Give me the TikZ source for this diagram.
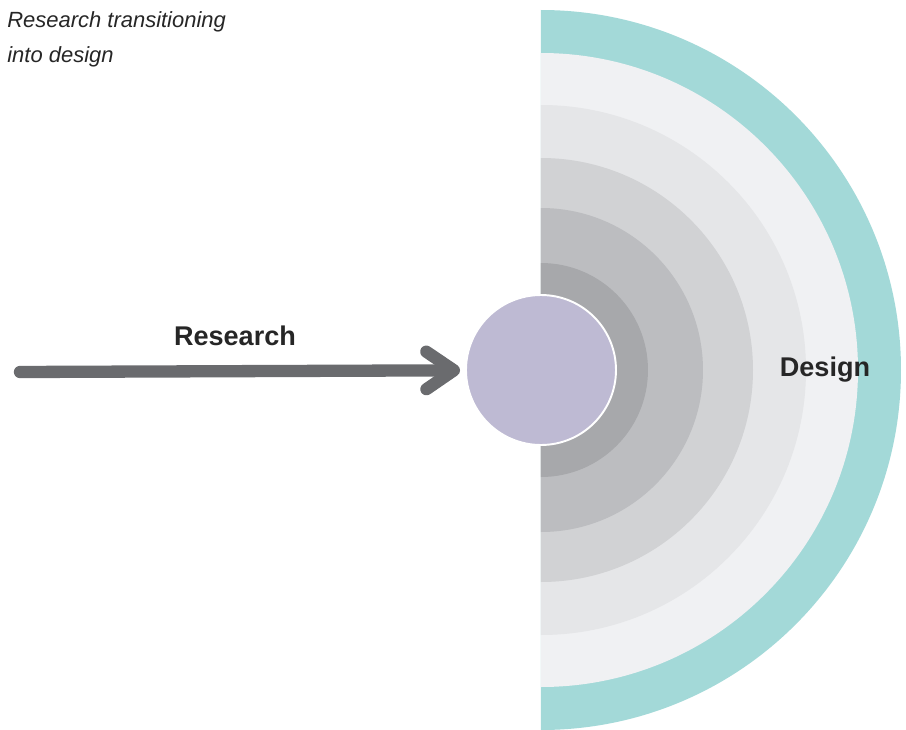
\documentclass[tikz,border=0pt]{standalone}
\usepackage{fontspec}
\setmainfont{Liberation Sans}
\usepackage{xcolor}
\usepackage{tikz}
\usetikzlibrary{arrows.meta}
\usetikzlibrary{shapes,arrows,positioning}
\definecolor{ringteal}{HTML}{A3D9D8}
\definecolor{ring1}{HTML}{F0F1F3}
\definecolor{ring2}{HTML}{E5E6E8}
\definecolor{ring3}{HTML}{D1D2D4}
\definecolor{ring4}{HTML}{BCBDC0}
\definecolor{ring5}{HTML}{A7A8AB}
\definecolor{corepurple}{HTML}{BEBAD3}
\definecolor{arrowgray}{HTML}{6A6B6E}
\tikzset{research-line/.style={line width=7pt, line cap=round, color=arrowgray}}
\tikzset{design-core/.style={circle, draw=white, line width=1.1pt, fill=corepurple, inner sep=0, minimum size=3cm}}
\tikzset{main-label/.style={font=\fontsize{15.4}{18}\selectfont\bfseries, text=black!85, inner sep=0}}
\tikzset{note-label/.style={font=\fontsize{12.5}{19.8}\selectfont\itshape, text=black!85, inner sep=0, align=left}}

\begin{document}
\begin{tikzpicture}[]
            \useasboundingbox (-10.82,-7.2) rectangle (7.3,7.4);

            \fill[ringteal] (0,7.2) arc[start angle=90, end angle=-90, radius=7.2] -- cycle;
            \fill[ring1] (0,6.34) arc[start angle=90, end angle=-90, radius=6.34] -- cycle;
            \fill[ring2] (0,5.3) arc[start angle=90, end angle=-90, radius=5.3] -- cycle;
            \fill[ring3] (0,4.24) arc[start angle=90, end angle=-90, radius=4.24] -- cycle;
            \fill[ring4] (0,3.24) arc[start angle=90, end angle=-90, radius=3.24] -- cycle;
            \fill[ring5] (0,2.14) arc[start angle=90, end angle=-90, radius=2.14] -- cycle;

            \node[design-core] (core) at (0,0) {};
            \coordinate (start) at (-10.42,-0.04);

            \node[main-label, anchor=base] (research) at (-6.12,0.5) {Research};
            \node[main-label, anchor=base] (design) at (5.68,-0.12) {Design};
            \node[note-label, anchor=north west] (note) at (-10.68,7.18) {Research transitioning\\into design};

            \draw[-{Straight Barb[round, length=0.55cm, width=0.75cm]}, research-line, shorten >=0.1cm] (start) -- (core);
        \end{tikzpicture}
\end{document}
